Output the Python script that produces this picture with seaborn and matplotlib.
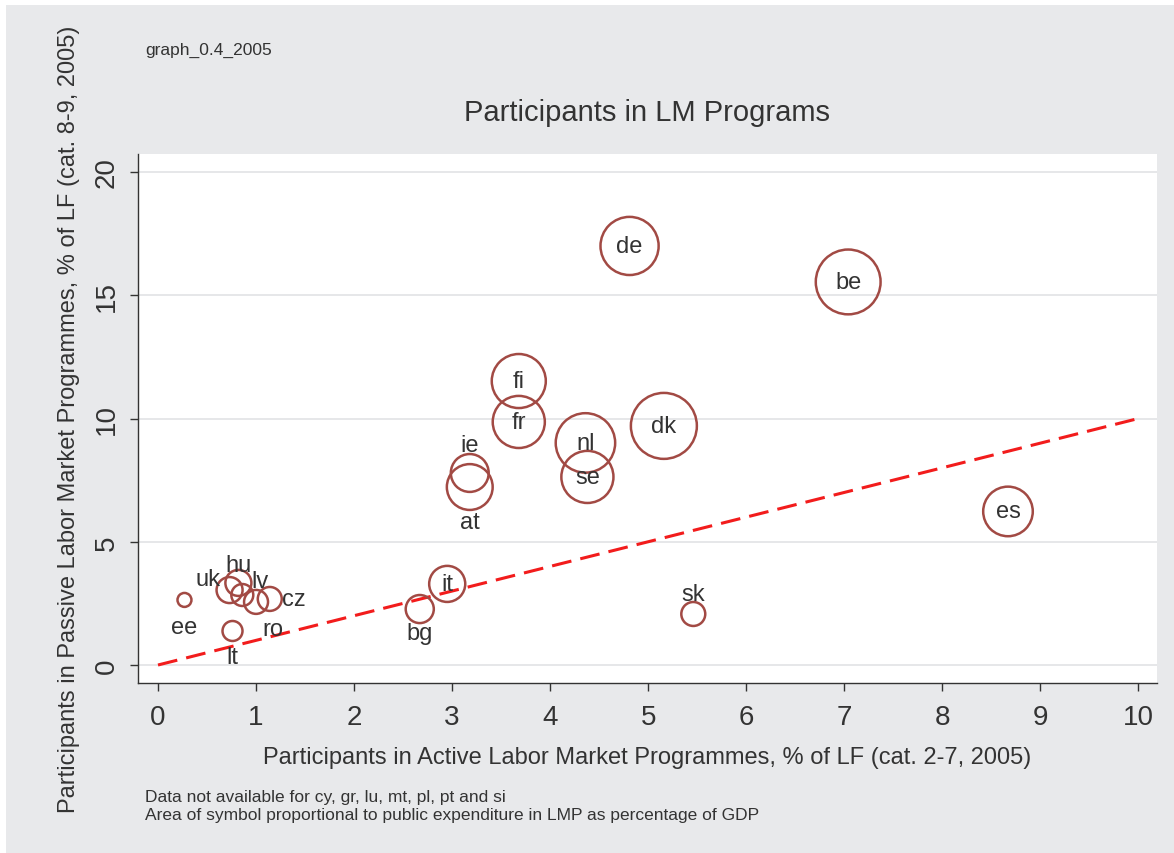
import pandas as pd
import seaborn as sns
from matplotlib import pyplot as plt
from matplotlib.patches import Rectangle

# values
country = ['de', 'be', 'fi', 'fr', 'dk', 'nl', 'se', 'ie', 'at', 'es',
           'sk', 'it', 'bg', 'ee', 'lt', 'uk', 'hu', 'lv', 'ro', 'cz']
active = [4.81, 7.04, 3.68, 3.68, 5.16, 4.36, 4.38, 3.18, 3.18, 8.67,
          5.46, 2.95, 2.67, 0.27, 0.76, 0.73, 0.82, 0.86, 1.00, 1.14]
passive = [17.0, 15.54, 11.52, 9.86, 9.70, 9.01, 7.63, 7.79, 7.22, 6.23,
           2.07, 3.29, 2.27, 2.64, 1.38, 3.04, 3.33, 2.84, 2.56, 2.68]
expend = [3.3, 4.1, 2.85, 2.65, 4.25, 3.45, 2.65, 1.4, 2.05, 2.4,
          0.56, 1.27, 0.77, 0.19, 0.39, 0.66, 0.66, 0.47, 0.56, 0.56]
diag = [0, 10]

# label placement (pixel offsets from marker centre, right / up)
label_off = {
    'ie': (0, 28), 'at': (0, -35), 'sk': (0, 20), 'bg': (0, -24),
    'ee': (0, -27), 'lt': (0, -26), 'uk': (-22, 11), 'hu': (0, 18),
    'lv': (18, 14), 'cz': (24, 0), 'ro': (17, -27),
}

df = pd.DataFrame({'country': country, 'active': active,
                   'passive': passive, 'expend': expend})

sns.set_style('white')
plt.rcParams['font.family'] = ['Liberation Sans', 'DejaVu Sans']
txt = '#333333'
edge = '#a24a44'

W, H, dpi = 1174, 854, 100
fig = plt.figure(figsize=(W / dpi, H / dpi), dpi=dpi, facecolor='white')
fig.patches.append(Rectangle((6 / W, 0), 1, 1 - 6 / H, transform=fig.transFigure,
                             facecolor='#e8e9eb', edgecolor='none', zorder=-10))

ax = fig.add_axes([138 / W, 1 - 684 / H, (1157 - 138) / W, (684 - 155) / H])
ax.set_facecolor('white')

ax.plot(diag, diag, color='#f21c1c', lw=2.2, dashes=(6.5, 3), zorder=1)

sns.scatterplot(data=df, x='active', y='passive', size='expend',
                sizes=(0, 531 * 4.5), size_norm=(0, 4.5), legend=False,
                linewidth=1.8, ax=ax, zorder=3)
coll = ax.collections[-1]
coll.set_facecolor('none')
coll.set_edgecolor(edge)

pt = 72 / dpi
for _, row in df.iterrows():
    dx, dy = label_off.get(row['country'], (0, 0))
    ax.annotate(row['country'], (row['active'], row['passive']),
                xytext=(dx * pt, dy * pt), textcoords='offset points',
                ha='center', va='center', fontsize=17, color=txt, zorder=4)

ax.set_xlim(-0.204, 10.19)
ax.set_ylim(-0.73, 20.73)
ax.set_xticks(range(0, 11))
ax.set_yticks([0, 5, 10, 15, 20])
ax.yaxis.grid(True, color='#e6e7e9', lw=1.4)
ax.xaxis.grid(False)
ax.set_axisbelow(True)
for s in ['top', 'right']:
    ax.spines[s].set_visible(False)
for s in ['left', 'bottom']:
    ax.spines[s].set_color('#333333')
    ax.spines[s].set_linewidth(1.0)
ax.tick_params(axis='both', direction='out', length=6, width=1.0,
               color='#333333', labelcolor=txt, labelsize=20,
               left=True, bottom=True)
ax.tick_params(axis='x', pad=9)
ax.tick_params(axis='y', pad=7)
for lab in ax.get_yticklabels():
    lab.set_rotation(90)
    lab.set_va('center')

ax.set_xlabel('Participants in Active Labor Market Programmes, % of LF (cat. 2-7, 2005)',
              fontsize=17, color=txt, labelpad=12)
ax.set_ylabel('Participants in Passive Labor Market Programmes, % of LF (cat. 8-9, 2005)',
              fontsize=17, color=txt, labelpad=10)

fig.text(647 / W, 1 - 113 / H, 'Participants in LM Programs',
         ha='center', va='center', fontsize=21, color=txt)
fig.text(145 / W, 1 - 50 / H, 'graph_0.4_2005', ha='left', va='center',
         fontsize=12.5, color=txt)
fig.text(145 / W, 1 - 798 / H, 'Data not available for cy, gr, lu, mt, pl, pt and si',
         ha='left', va='center', fontsize=12.5, color=txt)
fig.text(145 / W, 1 - 816 / H,
         'Area of symbol proportional to public expenditure in LMP as percentage of GDP',
         ha='left', va='center', fontsize=12.5, color=txt)

fig.savefig('out.png', dpi=dpi, facecolor=fig.get_facecolor())
